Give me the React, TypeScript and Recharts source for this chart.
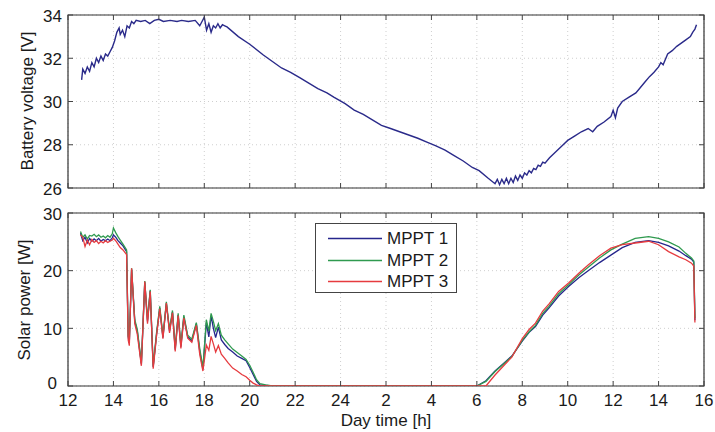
import React from 'react';
import { LineChart, Line, XAxis, YAxis, CartesianGrid, ReferenceArea, Label } from 'recharts';

const FONT = '"Liberation Sans", Arial, Helvetica, sans-serif';
const PLOT_LEFT = 68;
const PLOT_RIGHT = 704;

const hourTicks = [12, 14, 16, 18, 20, 22, 24, 26, 28, 30, 32, 34, 36, 38, 40];
const voltageTicks = [26, 28, 30, 32, 34];
const powerTicks = [0, 10, 20, 30];
const seriesNames = ['MPPT 1', 'MPPT 2', 'MPPT 3'];
const seriesColors = ['#26268c', '#2f9a4f', '#e63b3f'];
const voltageColor = '#2a2a8a';

// [hour since midnight of day 1, battery voltage V]
const voltageSamples: [number, number][] = [
  [12.6, 31.0], [12.65, 31.5], [12.75, 31.3], [12.85, 31.6], [12.95, 31.4], [13.05, 31.8],
  [13.15, 31.6], [13.25, 32.0], [13.35, 31.8], [13.45, 32.1], [13.55, 31.9], [13.65, 32.2],
  [13.75, 32.1], [13.85, 32.3], [13.95, 32.5], [14.05, 32.8], [14.15, 33.2], [14.25, 33.4],
  [14.3, 33.1], [14.4, 33.3], [14.5, 33.0], [14.6, 33.5], [14.7, 33.4], [14.8, 33.7],
  [14.9, 33.6], [15.0, 33.75], [15.2, 33.7], [15.4, 33.75], [15.6, 33.6], [15.8, 33.75],
  [16.0, 33.8], [16.2, 33.7], [16.5, 33.75], [16.8, 33.7], [17.0, 33.75], [17.3, 33.7],
  [17.6, 33.75], [17.8, 33.5], [17.9, 33.7], [18.0, 33.9], [18.1, 33.3], [18.2, 33.6],
  [18.3, 33.2], [18.4, 33.5], [18.5, 33.4], [18.6, 33.6], [18.7, 33.4], [18.8, 33.55],
  [18.9, 33.5], [19.0, 33.45], [19.5, 33.0], [20.0, 32.65], [20.6, 32.15], [21.0, 31.85],
  [21.4, 31.55], [21.8, 31.35], [22.2, 31.1], [22.6, 30.85], [23.0, 30.6], [23.4, 30.4],
  [23.7, 30.2], [24.2, 29.9], [24.6, 29.6], [25.0, 29.4], [25.4, 29.15], [25.8, 28.9],
  [26.2, 28.75], [26.6, 28.6], [27.0, 28.45], [27.4, 28.3], [27.8, 28.12], [28.2, 27.95],
  [28.6, 27.75], [29.0, 27.5], [29.4, 27.25], [29.8, 26.95], [30.1, 26.8], [30.5, 26.45],
  [30.8, 26.2], [30.9, 26.4], [31.0, 26.15], [31.1, 26.4], [31.2, 26.2], [31.3, 26.45],
  [31.4, 26.2], [31.5, 26.45], [31.6, 26.25], [31.7, 26.55], [31.8, 26.35], [31.9, 26.6],
  [32.0, 26.45], [32.1, 26.7], [32.2, 26.6], [32.3, 26.8], [32.4, 26.7], [32.5, 26.9],
  [32.6, 26.85], [32.7, 27.05], [32.8, 27.0], [32.9, 27.2], [33.0, 27.15], [33.2, 27.4],
  [33.5, 27.7], [33.8, 28.0], [34.0, 28.2], [34.3, 28.4], [34.6, 28.6], [34.9, 28.75],
  [35.1, 28.6], [35.3, 28.85], [35.6, 29.05], [35.9, 29.3], [36.0, 29.6], [36.1, 29.25],
  [36.2, 29.7], [36.4, 30.0], [36.7, 30.2], [37.0, 30.4], [37.2, 30.65], [37.4, 30.9],
  [37.6, 31.15], [37.8, 31.35], [38.0, 31.6], [38.1, 31.8], [38.2, 31.7], [38.4, 32.2],
  [38.6, 32.35], [38.8, 32.55], [39.0, 32.7], [39.2, 32.85], [39.4, 33.0], [39.5, 33.2],
  [39.6, 33.35], [39.67, 33.55],
];

// [hour, MPPT 1 W, MPPT 2 W, MPPT 3 W]
const powerSamples: [number, number, number, number][] = [
  [12.55, 26.5, 26.8, 26.2], [12.65, 25.2, 25.8, 25.8], [12.75, 25.8, 26.2, 24.2],
  [12.85, 24.8, 25.5, 25.3], [12.95, 25.6, 26.1, 24.5], [13.05, 25.1, 26.0, 25.4],
  [13.15, 25.5, 26.3, 24.9], [13.25, 25.2, 25.9, 25.2], [13.35, 25.6, 26.2, 24.7],
  [13.45, 25.1, 25.8, 25.1], [13.55, 25.4, 26.0, 24.8], [13.65, 25.2, 25.7, 25.2],
  [13.75, 25.5, 26.1, 24.9], [13.85, 25.2, 25.8, 25.1], [13.95, 25.7, 26.4, 25.3],
  [14.0, 26.2, 27.4, 25.6], [14.1, 25.8, 26.6, 25.2], [14.2, 25.2, 25.9, 24.6],
  [14.3, 24.8, 25.3, 24.0], [14.42, 24.3, 24.6, 23.6], [14.58, 23.3, 23.6, 22.8],
  [14.65, 8.5, 8.8, 8.0], [14.7, 7.5, 7.8, 7.0], [14.8, 20.2, 20.4, 20.4],
  [14.94, 11.2, 11.5, 10.8], [15.05, 9.5, 9.8, 9.0], [15.23, 3.8, 4.0, 3.5],
  [15.38, 18.0, 18.2, 18.1], [15.5, 11.2, 11.5, 10.8], [15.62, 16.5, 16.7, 16.4],
  [15.75, 3.3, 3.5, 3.0], [15.9, 9.0, 9.3, 8.8], [16.04, 13.5, 13.8, 13.4],
  [16.18, 8.4, 8.7, 8.2], [16.33, 14.3, 14.6, 14.4], [16.47, 9.5, 9.8, 9.2],
  [16.6, 12.8, 13.1, 12.7], [16.72, 6.3, 6.6, 6.0], [16.85, 12.3, 12.6, 12.2],
  [16.97, 6.8, 7.2, 6.5], [17.1, 12.0, 12.3, 11.8], [17.27, 8.5, 8.8, 8.3],
  [17.45, 7.8, 8.1, 7.6], [17.65, 10.8, 11.0, 10.5], [17.8, 6.0, 6.5, 5.5],
  [17.94, 2.9, 3.2, 2.6], [18.09, 11.0, 11.5, 7.1], [18.2, 8.5, 9.5, 6.2],
  [18.3, 12.2, 12.6, 8.6], [18.4, 10.0, 11.2, 7.3], [18.5, 8.4, 9.6, 5.9],
  [18.62, 10.2, 10.8, 7.0], [18.75, 8.0, 8.8, 5.5], [18.9, 7.2, 8.0, 4.8],
  [19.05, 6.5, 7.3, 4.0], [19.25, 5.9, 6.4, 3.1], [19.45, 5.2, 5.8, 2.6],
  [19.65, 4.8, 5.2, 2.0], [19.84, 4.4, 4.6, 1.6], [20.0, 3.2, 3.6, 1.0],
  [20.15, 2.0, 2.4, 0.5], [20.3, 0.8, 1.1, 0.2], [20.45, 0.2, 0.4, 0],
  [20.7, 0.1, 0.2, 0], [21.0, 0, 0, 0], [30.0, 0, 0, 0],
  [30.4, 0.9, 0.8, 0], [30.8, 2.6, 2.5, 1.9], [31.2, 4.0, 3.9, 3.6],
  [31.54, 5.2, 5.1, 5.0], [32.0, 7.8, 7.9, 8.2], [32.3, 9.3, 9.4, 9.8],
  [32.58, 10.3, 10.5, 10.9], [32.9, 12.3, 12.6, 13.0], [33.17, 13.5, 13.8, 14.2],
  [33.6, 15.6, 16.0, 16.4], [34.05, 17.3, 17.6, 17.9], [34.5, 18.8, 19.3, 19.6],
  [34.9, 20.0, 20.6, 21.0], [35.4, 21.4, 22.2, 22.6], [35.9, 22.7, 23.6, 23.9],
  [36.4, 24.0, 24.6, 24.5], [36.97, 24.9, 25.6, 24.8], [37.56, 25.2, 25.9, 25.1],
  [38.0, 24.9, 25.6, 24.5], [38.44, 24.3, 25.0, 23.3], [38.9, 23.4, 24.1, 22.4],
  [39.2, 22.6, 23.0, 21.9], [39.45, 22.0, 22.2, 21.3], [39.55, 21.5, 21.7, 20.8],
  [39.6, 11.4, 11.8, 11.0],
];

const voltageData = voltageSamples.map(([h, v]) => ({ h, v }));
const powerData = powerSamples.map(([h, a, b, c]) => ({ h, m1: a, m2: b, m3: c }));
const powerKeys = ['m1', 'm2', 'm3'];

const fmtHour = (h: number) => String(h > 24 ? h - 24 : h);

const textStyle = { fontFamily: FONT, fill: '#1a1a1a' };

function makeXTick(top: number, bottom: number, showLabel: boolean) {
  return (props: any) => {
    const { x, payload } = props;
    return (
      <g>
        <line x1={x} x2={x} y1={bottom} y2={bottom - 5} stroke="#444" strokeWidth={1} />
        <line x1={x} x2={x} y1={top} y2={top + 5} stroke="#444" strokeWidth={1} />
        {showLabel && (
          <text x={x} y={bottom + 14} textAnchor="middle" dominantBaseline="central" fontSize={17} {...textStyle}>
            {fmtHour(payload.value)}
          </text>
        )}
      </g>
    );
  };
}

function makeYTick(bottomValue: number | null) {
  return (props: any) => {
    const { y, payload } = props;
    const isCorner = bottomValue !== null && payload.value === bottomValue;
    return (
      <g>
        <line x1={PLOT_LEFT} x2={PLOT_LEFT + 5} y1={y} y2={y} stroke="#444" strokeWidth={1} />
        <line x1={PLOT_RIGHT} x2={PLOT_RIGHT - 5} y1={y} y2={y} stroke="#444" strokeWidth={1} />
        <text
          x={isCorner ? PLOT_LEFT - 11 : PLOT_LEFT - 6}
          y={isCorner ? y - 3 : y + 1}
          textAnchor="end"
          dominantBaseline="central"
          fontSize={17}
          {...textStyle}
        >
          {payload.value}
        </text>
      </g>
    );
  };
}

const rotatedLabel = (text: string, cx: number, cy: number) => () => (
  <text
    transform={`translate(${cx},${cy}) rotate(-90)`}
    textAnchor="middle"
    dominantBaseline="central"
    fontSize={17}
    {...textStyle}
  >
    {text}
  </text>
);

export default function App() {
  return (
    <div style={{ position: 'absolute', left: 0, top: 0, width: 715, height: 432, background: '#fff' }}>
      <div style={{ position: 'absolute', left: 0, top: 0 }}>
        <LineChart width={715} height={200} data={voltageData} margin={{ top: 15, right: 715 - PLOT_RIGHT, bottom: 0, left: 8 }}>
          <CartesianGrid stroke="#cfcfcf" strokeDasharray="1 3" />
          <XAxis
            dataKey="h"
            type="number"
            domain={[12, 40]}
            ticks={hourTicks}
            interval={0}
            height={12}
            axisLine={false}
            tickLine={false}
            tick={makeXTick(15, 188, false)}
            allowDataOverflow
          />
          <YAxis
            type="number"
            domain={[26, 34]}
            ticks={voltageTicks}
            interval={0}
            width={60}
            axisLine={false}
            tickLine={false}
            tick={makeYTick(null)}
            allowDataOverflow
          >
            <Label content={rotatedLabel('Battery voltage [V]', 27, 101)} />
          </YAxis>
          <Line type="linear" dataKey="v" stroke={voltageColor} strokeWidth={1.4} dot={false} isAnimationActive={false} />
          <ReferenceArea x1={12} x2={40} y1={26} y2={34} fill="none" stroke="#333" strokeWidth={1.2} />
        </LineChart>
      </div>
      <div style={{ position: 'absolute', left: 0, top: 200 }}>
        <LineChart width={715} height={232} data={powerData} margin={{ top: 13, right: 715 - PLOT_RIGHT, bottom: 0, left: 8 }}>
          <CartesianGrid stroke="#cfcfcf" strokeDasharray="1 3" />
          <XAxis
            dataKey="h"
            type="number"
            domain={[12, 40]}
            ticks={hourTicks}
            interval={0}
            height={46}
            axisLine={false}
            tickLine={false}
            tick={makeXTick(13, 186, true)}
            allowDataOverflow
          >
            <Label
              content={() => (
                <text x={386} y={220} textAnchor="middle" dominantBaseline="central" fontSize={17} {...textStyle}>
                  Day time [h]
                </text>
              )}
            />
          </XAxis>
          <YAxis
            type="number"
            domain={[0, 30]}
            ticks={powerTicks}
            interval={0}
            width={60}
            axisLine={false}
            tickLine={false}
            tick={makeYTick(0)}
            allowDataOverflow
          >
            <Label content={rotatedLabel('Solar power [W]', 24, 100)} />
          </YAxis>
          {powerKeys.map((k, i) => (
            <Line
              key={k}
              type="linear"
              dataKey={k}
              name={seriesNames[i]}
              stroke={seriesColors[i]}
              strokeWidth={1.3}
              dot={false}
              isAnimationActive={false}
            />
          ))}
          <ReferenceArea x1={12} x2={40} y1={0} y2={30} fill="none" stroke="#333" strokeWidth={1.2} />
        </LineChart>
        <div
          style={{
            position: 'absolute',
            left: 315,
            top: 23,
            width: 142,
            height: 70,
            boxSizing: 'border-box',
            border: '1.5px solid #444',
            background: '#fff',
            fontFamily: FONT,
            fontSize: 17,
            color: '#1a1a1a',
          }}
        >
          {seriesNames.map((name, i) => (
            <div key={name} style={{ position: 'absolute', left: 0, top: 4 + i * 21.5, height: 21, width: 140 }}>
              <svg width={60} height={21} style={{ position: 'absolute', left: 10, top: 0 }}>
                <line x1={2} x2={56} y1={10.5} y2={10.5} stroke={seriesColors[i]} strokeWidth={1.5} />
              </svg>
              <span style={{ position: 'absolute', left: 71, top: 0, lineHeight: '21px', whiteSpace: 'nowrap' }}>{name}</span>
            </div>
          ))}
        </div>
      </div>
    </div>
  );
}
